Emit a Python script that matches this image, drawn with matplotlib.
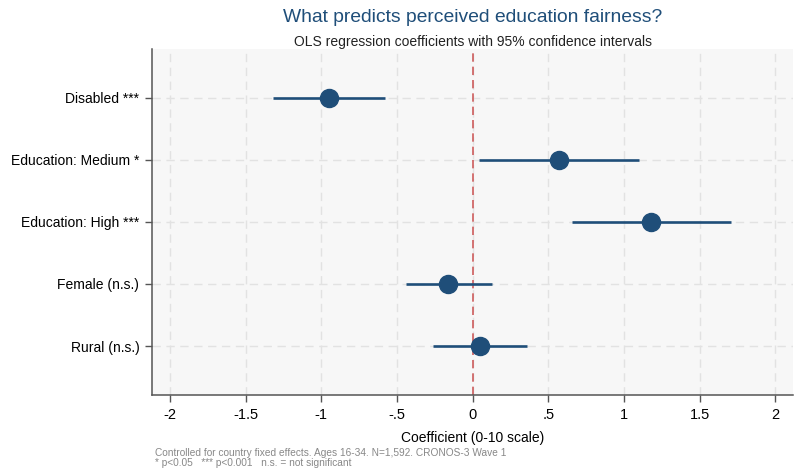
import matplotlib
matplotlib.use('Agg')
import matplotlib.pyplot as plt

plt.rcParams['font.family'] = ['Liberation Sans', 'DejaVu Sans']

# Datos
labels = ['Disabled ***', 'Education: Medium *', 'Education: High ***', 'Female (n.s.)', 'Rural (n.s.)']
coef = [-0.95, 0.57, 1.18, -0.16, 0.05]
ci_low = [-1.32, 0.04, 0.66, -0.44, -0.26]
ci_high = [-0.58, 1.10, 1.71, 0.13, 0.36]
xticks = [-2, -1.5, -1, -0.5, 0, 0.5, 1, 1.5, 2]
xticklabels = ['-2', '-1.5', '-1', '-.5', '0', '.5', '1', '1.5', '2']

azul = '#1f4e79'

fig = plt.figure(figsize=(7.95, 4.68), dpi=100)
ax = fig.add_axes([0.191, 0.157, 0.807, 0.738])
ax.set_facecolor('#f7f7f7')

ypos = list(range(len(labels)))
for y, c, lo, hi in zip(ypos, coef, ci_low, ci_high):
    ax.plot([lo, hi], [y, y], color=azul, lw=1.9, zorder=3, solid_capstyle='butt')
    ax.plot(c, y, 'o', color=azul, ms=13, zorder=4)

ax.axvline(0, color='#cd5c5c', lw=1.2, ls=(0, (5, 3)), zorder=2)

ax.set_xlim(-2.12, 2.12)
ax.set_ylim(len(labels) - 1 + 0.78, -0.78)
ax.set_yticks(ypos)
ax.set_yticklabels(labels, fontsize=10)
ax.set_xticks(xticks)
ax.set_xticklabels(xticklabels, fontsize=10.5)
ax.grid(True, color='#e2e2e2', ls=(0, (6, 4)), lw=1, zorder=0)
for s in ['top', 'right']:
    ax.spines[s].set_visible(False)
for s in ['left', 'bottom']:
    ax.spines[s].set_color('#555555')
    ax.spines[s].set_linewidth(1.1)
ax.tick_params(axis='both', color='#555555', length=5, width=1, pad=4)
ax.tick_params(axis='x', pad=5)
ax.set_xlabel('Coefficient (0-10 scale)', fontsize=10, labelpad=6)

fig.text(0.595, 0.962, 'What predicts perceived education fairness?', ha='center', va='center',
         fontsize=13.9, color=azul)
fig.text(0.595, 0.911, 'OLS regression coefficients with 95% confidence intervals', ha='center',
         va='center', fontsize=10, color='#222222')
fig.text(0.195, 0.022, 'Controlled for country fixed effects. Ages 16-34. N=1,592. CRONOS-3 Wave 1\n'
         '* p<0.05   *** p<0.001   n.s. = not significant', ha='left', va='center',
         fontsize=7.3, color='#888888', linespacing=1.05)

fig.savefig('out.png', dpi=100)
